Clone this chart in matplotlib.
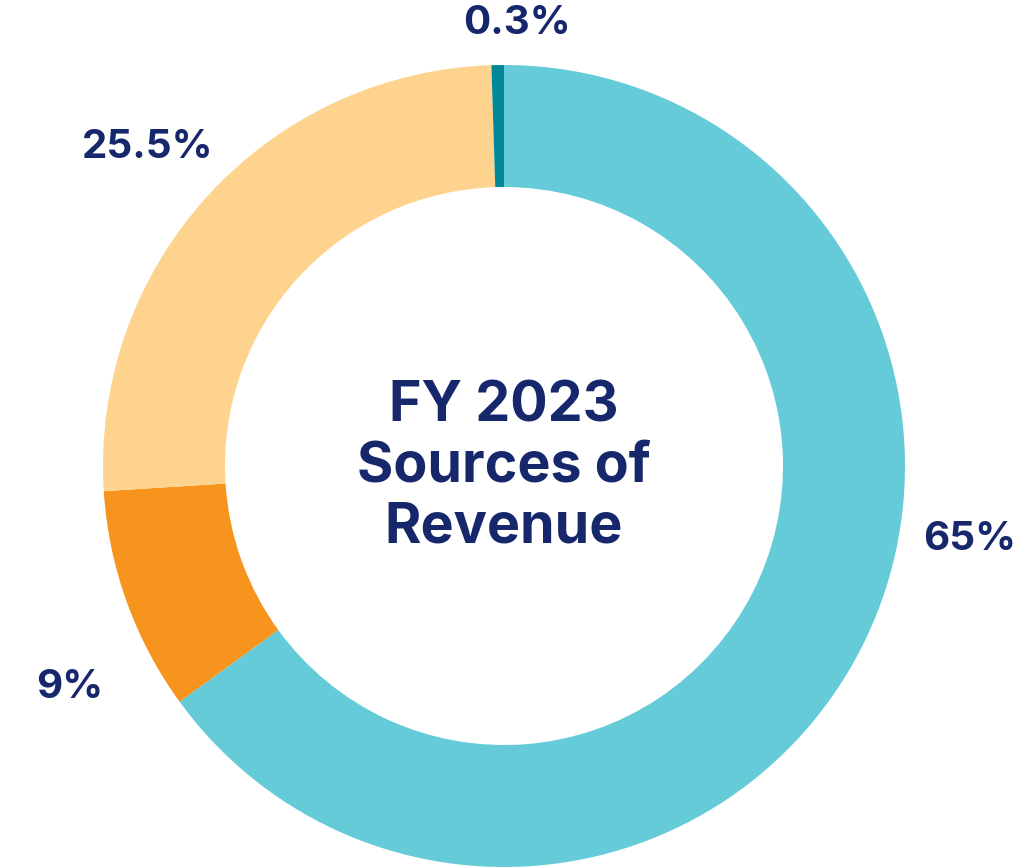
import matplotlib
matplotlib.use('Agg')
import matplotlib.pyplot as plt

# revenue shares, clockwise from 12 o'clock
shares = [65, 9, 25.5, 0.5]
share_labels = ["65%", "9%", "25.5%", "0.3%"]
colors = ["#66CBD9", "#F7941D", "#FED38D", "#00879A"]
label_pos = [(970, 540), (70, 688), (148, 148), (517, 23)]

navy = "#16276B"
plt.rcParams['font.family'] = ['Inter', 'DejaVu Sans']

fig = plt.figure(figsize=(10.24, 8.67), dpi=100)
ax = fig.add_axes([0, 0, 1, 1])

# pie in y-down coords: counterclock=True appears clockwise on screen
ax.pie(shares, colors=colors, startangle=-90, counterclock=True,
       center=(504, 466), radius=401,
       wedgeprops=dict(width=122, linewidth=0), frame=True)
ax.set_xlim(0, 1024)
ax.set_ylim(867, 0)
ax.set_aspect('equal')
ax.axis('off')

for txt, (x, y) in zip(share_labels, label_pos):
    ax.text(x, y, txt, ha='center', va='center', fontsize=29,
            fontweight='bold', color=navy)

ax.text(504, 467, "FY 2023\nSources of\nRevenue", ha='center', va='center',
        fontsize=40, fontweight='bold', color=navy, linespacing=1.2)

plt.savefig("out.png", dpi=100)
plt.close()
